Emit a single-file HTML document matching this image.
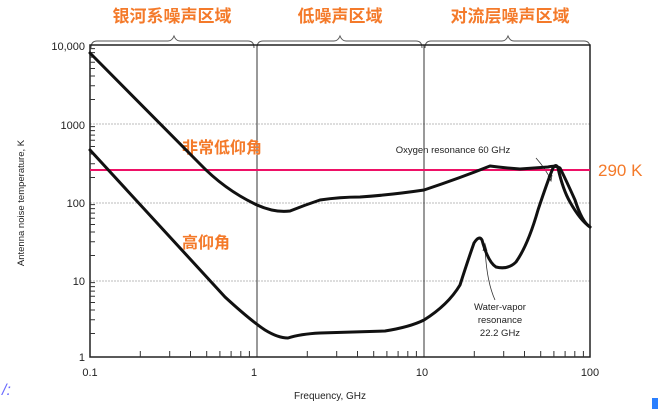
<!DOCTYPE html>
<html><head><meta charset="utf-8"><style>
body{margin:0;background:#fff;}
svg{display:block;}
.cn{font-family:"Liberation Sans","Noto Sans CJK SC",sans-serif;font-weight:bold;fill:#f47a2a;}
.t{font-family:"Liberation Sans",sans-serif;fill:#222;}
</style></head><body>
<svg width="658" height="409" viewBox="0 0 658 409" xmlns="http://www.w3.org/2000/svg">
<text class="cn" x="172" y="22" font-size="17" text-anchor="middle">银河系噪声区域</text>
<text class="cn" x="340" y="22" font-size="17" text-anchor="middle">低噪声区域</text>
<text class="cn" x="510" y="22" font-size="17" text-anchor="middle">对流层噪声区域</text>
<g fill="none" stroke="#555" stroke-width="1">
<path d="M91,48 Q91,41 97,41 L168,41 Q172,41 174,36 Q176,41 180,41 L248,41 Q254,41 254,48"/>
<path d="M257,48 Q257,41 263,41 L334,41 Q338,41 340,36 Q342,41 346,41 L416,41 Q422,41 422,48"/>
<path d="M425,48 Q425,41 431,41 L502,41 Q506,41 508,36 Q510,41 514,41 L584,41 Q590,41 590,48"/>
</g>
<g stroke="#bbb" stroke-width="1" stroke-dasharray="2,1">
<line x1="90" y1="124" x2="590" y2="124"/><line x1="90" y1="203" x2="590" y2="203"/><line x1="90" y1="281" x2="590" y2="281"/>
</g>
<g stroke="#333" stroke-width="1"><line x1="257" y1="45" x2="257" y2="357"/><line x1="424" y1="45" x2="424" y2="357"/></g>
<rect x="90" y="45" width="500" height="312" fill="none" stroke="#222" stroke-width="1.5"/>
<g stroke="#333" stroke-width="1">
<path d="M90,333.5h5M90,319.8h5M90,310h5M90,302.5h5M90,296.3h5M90,291.1h5M90,286.6h5M90,282.6h5
M90,255.5h5M90,241.7h5M90,232h5M90,224.5h5M90,218.3h5M90,213.1h5M90,208.6h5M90,204.6h5
M90,177.5h5M90,163.7h5M90,154h5M90,146.5h5M90,140.3h5M90,135.1h5M90,130.6h5M90,126.6h5
M90,99.5h5M90,85.7h5M90,76h5M90,68.5h5M90,62.3h5M90,57.1h5M90,52.6h5M90,48.6h5"/>
<path d="M140.3,357v-6M169.7,357v-6M190.5,357v-6M206.7,357v-6M219.9,357v-6M231.1,357v-6M240.8,357v-6M249.4,357v-6
M307.3,357v-6M336.7,357v-6M357.5,357v-6M373.7,357v-6M386.9,357v-6M398.1,357v-6M407.8,357v-6M416.4,357v-6
M474.3,357v-6M503.7,357v-6M524.5,357v-6M540.7,357v-6M553.9,357v-6M565.1,357v-6M574.8,357v-6M583.4,357v-6"/>
</g>
<g class="t" font-size="11">
<text x="85" y="50" text-anchor="end">10,000</text>
<text x="85" y="129" text-anchor="end">1000</text>
<text x="85" y="207" text-anchor="end">100</text>
<text x="85" y="285" text-anchor="end">10</text>
<text x="85" y="361" text-anchor="end">1</text>
<text x="90" y="376" text-anchor="middle">0.1</text>
<text x="254" y="376" text-anchor="middle">1</text>
<text x="422" y="376" text-anchor="middle">10</text>
<text x="590" y="376" text-anchor="middle">100</text>
<text x="330" y="399" text-anchor="middle" font-size="10">Frequency, GHz</text>
<text transform="translate(24,203) rotate(-90)" text-anchor="middle" font-size="9.5">Antenna noise temperature, K</text>
<text x="453" y="153" text-anchor="middle" font-size="9.5">Oxygen resonance 60 GHz</text>
<text x="500" y="310" text-anchor="middle" font-size="9.5">Water-vapor</text>
<text x="500" y="323" text-anchor="middle" font-size="9.5">resonance</text>
<text x="500" y="336" text-anchor="middle" font-size="9.5">22.2 GHz</text>
</g>
<g fill="none" stroke="#333" stroke-width="0.8">
<path d="M536,158 Q545,168 551,180"/><path d="M548,176 L551,181 L552,175"/>
<path d="M495,300 Q486,280 485,245"/><path d="M483,251 L485,244 L487,251"/>
</g>
<line x1="90" y1="170" x2="590" y2="170" stroke="#ee1166" stroke-width="2"/>
<text x="598" y="176" font-family="Liberation Sans,sans-serif" font-size="17" fill="#f47a2a">290 K</text>
<text class="cn" x="182" y="153" font-size="16">非常低仰角</text>
<text class="cn" x="182" y="248" font-size="16">高仰角</text>
<g fill="none" stroke="#111" stroke-width="3" stroke-linejoin="round" stroke-linecap="round">
<path d="M90,53 L200,164 Q225,190 257,205 Q275,213 290,211 Q305,205 320,200 Q340,197 360,197 Q390,195 424,190 Q460,178 490,166 Q505,168 520,169 L548,167 Q555,165 560,168 Q566,180 575,200 Q582,222 590,227"/>
<path d="M90,150 L225,297 Q250,320 265,330 Q278,338 288,338 Q300,334 320,333 L385,331 Q410,327 424,320 Q448,305 460,285 Q468,260 474,243 Q479,235 482,240 Q488,262 496,267 Q508,270 516,262 Q528,245 538,210 Q548,180 553,168 Q556,163 558,168 Q563,190 570,202 Q580,220 590,227"/>
</g>
<text x="2" y="395" font-family="Liberation Sans,sans-serif" font-size="16" fill="#6a6aff" font-style="italic">/:</text>
<rect x="652" y="398" width="6" height="11" fill="#2a7fff"/>
</svg>
</body></html>
